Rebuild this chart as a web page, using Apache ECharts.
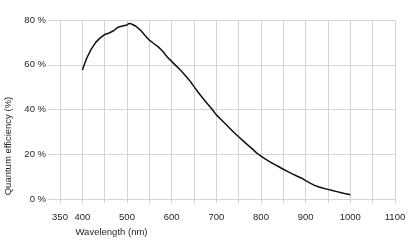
<!DOCTYPE html>
<html>
<head>
<meta charset="utf-8">
<script src="https://cdn.jsdelivr.net/npm/echarts@6/dist/echarts.min.js"></script>
<style>
	html, body { margin: 0; padding: 0; background: #fff; }
	#chart { width: 416px; height: 241px; }
</style>
</head>
<body>
<div id="chart"></div>
<script>
// wavelength (nm) and quantum efficiency (%)
var wavelengths = [400, 410, 420, 430, 440, 450, 460, 470, 480, 490, 500, 505, 510, 520, 530, 540, 550, 560, 570, 580,
	590, 600, 610, 620, 630, 640, 650, 660, 670, 680, 690, 700, 710, 720, 730, 740, 750, 760, 770, 780,
	790, 800, 810, 820, 830, 840, 850, 860, 870, 880, 890, 900, 910, 920, 930, 940, 950, 960, 970, 980, 990, 1000];
var efficiency = [57.7, 63, 67, 70, 72, 73.5, 74.2, 75.2, 76.8, 77.3, 77.8, 78.5, 78.2, 77.2, 75.5, 73.2, 71, 69.5, 68, 66,
	63.5, 61.5, 59.5, 57.5, 55.3, 53, 50.2, 47.5, 45, 42.6, 40.2, 37.6, 35.6, 33.6, 31.6, 29.6, 27.8, 26, 24.2, 22.5,
	20.6, 19.2, 17.8, 16.6, 15.5, 14.4, 13.3, 12.2, 11.2, 10.3, 9.4, 8.2, 7.1, 6.1, 5.4, 4.8, 4.3, 3.8, 3.3, 2.8, 2.3, 1.9];
var xLabelValues = [350, 400, 500, 600, 700, 800, 900, 1000, 1100];
var yLabelValues = [0, 20, 40, 60, 80];

var points = [];
for (var i = 0; i < wavelengths.length; i++) {
	points.push([wavelengths[i], efficiency[i]]);
}

var font = 'Liberation Sans, Arial, sans-serif';
var gridColor = '#d4d4d4';
var textColor = '#262626';
var myChart = echarts.init(document.getElementById('chart'));
var option = {
	animation: false,
	grid: { left: 60, right: 21, top: 20, bottom: 42, containLabel: false, outerBoundsMode: 'none' },
	xAxis: {
		type: 'value',
		min: 350,
		max: 1100,
		interval: 50,
		name: 'Wavelength (nm)',
		nameLocation: 'middle',
		nameGap: 28,
		nameTextStyle: { color: textColor, fontSize: 9.5, fontFamily: font, padding: [0, 232, 0, 0] },
		axisLine: { show: true, lineStyle: { color: gridColor } },
		axisTick: { show: true, length: 4, lineStyle: { color: gridColor } },
		axisLabel: {
			color: textColor, fontSize: 9.5, fontFamily: font, margin: 13,
			formatter: function(v) { return xLabelValues.indexOf(v) >= 0 ? String(v) : ''; }
		},
		splitLine: { show: true, lineStyle: { color: gridColor } }
	},
	yAxis: {
		type: 'value',
		min: 0,
		max: 80,
		interval: 10,
		name: 'Quantum efficiency (%)',
		nameLocation: 'middle',
		nameGap: 38,
		nameTextStyle: { color: textColor, fontSize: 9.5, fontFamily: font, padding: [0, 73, 0, 0] },
		axisLine: { show: false },
		axisTick: { show: true, length: 12, customValues: yLabelValues, lineStyle: { color: gridColor } },
		axisLabel: {
			color: textColor, fontSize: 9.5, fontFamily: font, margin: 14,
			formatter: function(v) { return yLabelValues.indexOf(v) >= 0 ? v + ' %' : ''; }
		},
		splitLine: { show: true, lineStyle: { color: gridColor } }
	},
	series: [{
		type: 'line',
		data: points,
		showSymbol: false,
		smooth: false,
		lineStyle: { color: '#111', width: 1.5 }
	}]
};
myChart.setOption(option);
</script>
</body>
</html>
